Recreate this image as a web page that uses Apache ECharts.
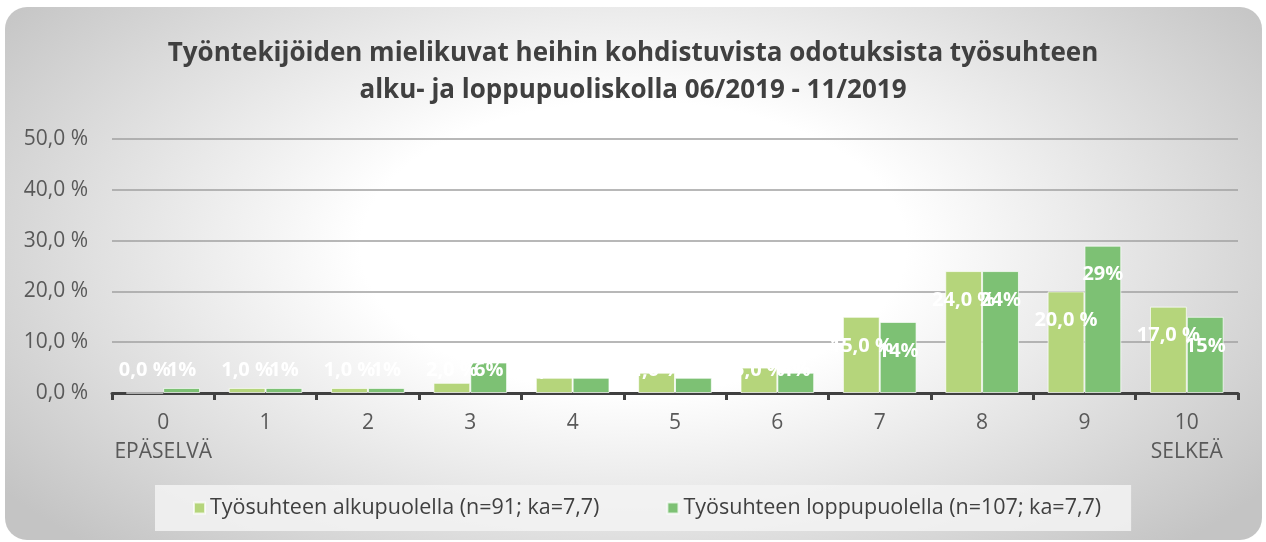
<!DOCTYPE html>
<html>
<head>
<meta charset="utf-8">
<script src="https://cdn.jsdelivr.net/npm/echarts@6/dist/echarts.min.js"></script>
<style>
  html, body { margin: 0; padding: 0; background: #fff; }
  #frame {
    position: absolute; left: 5px; top: 7px; width: 1257px; height: 533px;
    border-radius: 22px;
    background: radial-gradient(ellipse 62% 78% at 50% 45%, #ffffff 35%, #c4c4c4 100%);
  }
  #chart { position: absolute; left: 0; top: 0; width: 1266px; height: 542px; }
</style>
</head>
<body>
<div id="frame"></div>
<div id="chart"></div>
<script>
// categories 0..10, end labels carry the scale words
const categories = ['0\nEPÄSELVÄ', '1', '2', '3', '4', '5', '6', '7', '8', '9', '10\nSELKEÄ'];
const alkuName = 'Työsuhteen alkupuolella (n=91; ka=7,7)';
const loppuName = 'Työsuhteen loppupuolella (n=107; ka=7,7)';
// percentages
const alkuValues = [0, 1, 1, 2, 3, 4, 5, 15, 24, 20, 17];
const loppuValues = [1, 1, 1, 6, 3, 3, 4, 14, 24, 29, 15];
const yTicks = [0, 10, 20, 30, 40, 50];

const FONT = 'Open Sans';
const chart = echarts.init(document.getElementById('chart'));

// Excel puts the label inside the top of the bar, but short bars get it lifted above the axis
function withLabels(values) {
  return values.map(v => ({
    value: v,
    label: v > 10
      ? { position: 'insideTop', distance: 19 }
      : { position: 'insideBottom', distance: 13 }
  }));
}

const labelStyle = {
  show: true,
  color: '#ffffff',
  fontFamily: FONT,
  fontWeight: 'bold',
  fontSize: 20
};

const option = {
  animation: false,
  textStyle: { fontFamily: FONT },
  title: {
    text: 'Työntekijöiden mielikuvat heihin kohdistuvista odotuksista työsuhteen\nalku- ja loppupuoliskolla 06/2019 - 11/2019',
    left: 'center',
    top: 30,
    textStyle: {
      fontFamily: FONT,
      fontWeight: 'bold',
      fontSize: 26,
      lineHeight: 37,
      color: '#404040'
    }
  },
  legend: {
    bottom: 11,
    left: 155,
    itemWidth: 11,
    itemHeight: 11,
    itemGap: 67,
    padding: [12, 30, 12, 38],
    backgroundColor: 'rgba(243,243,243,0.85)',
    icon: 'rect',
    textStyle: { fontFamily: FONT, fontSize: 21.5, color: '#404040' },
    data: [alkuName, loppuName]
  },
  grid: { left: 112, right: 28, top: 139, bottom: 149 },
  xAxis: {
    type: 'category',
    data: categories,
    axisLine: { lineStyle: { color: '#404040', width: 3 } },
    axisTick: { show: true, length: 7, lineStyle: { color: '#404040', width: 3 } },
    axisLabel: {
      interval: 0,
      color: '#595959',
      fontFamily: FONT,
      fontSize: 21,
      lineHeight: 29,
      margin: 16
    }
  },
  yAxis: {
    type: 'value',
    min: yTicks[0],
    max: yTicks[yTicks.length - 1],
    interval: 10,
    axisLine: { show: false },
    axisTick: { show: false },
    splitLine: { lineStyle: { color: '#a0a0a0', width: 1.5 } },
    axisLabel: {
      color: '#595959',
      fontFamily: FONT,
      fontSize: 21,
      margin: 24,
      formatter: v => v.toFixed(1).replace('.', ',') + ' %'
    }
  },
  series: [
    {
      name: alkuName,
      type: 'bar',
      data: withLabels(alkuValues),
      barGap: '0%',
      barCategoryGap: '28%',
      itemStyle: { color: '#b5d57b', borderColor: 'rgba(255,255,255,0.7)', borderWidth: 1 },
      label: Object.assign({}, labelStyle, {
        formatter: p => p.value.toFixed(1).replace('.', ',') + ' %'
      })
    },
    {
      name: loppuName,
      type: 'bar',
      data: withLabels(loppuValues),
      barGap: '0%',
      barCategoryGap: '28%',
      itemStyle: { color: '#7dc174', borderColor: 'rgba(255,255,255,0.7)', borderWidth: 1 },
      label: Object.assign({}, labelStyle, {
        formatter: p => p.value + '%'
      })
    }
  ]
};

chart.setOption(option);
</script>
</body>
</html>
